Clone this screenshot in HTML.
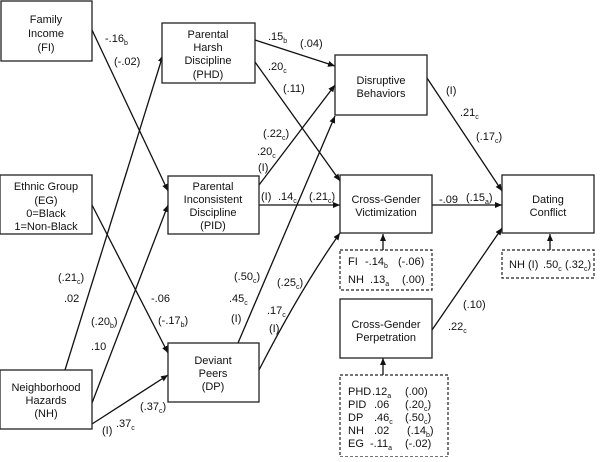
<!DOCTYPE html>
<html><head><style>
body{margin:0;background:#fff}
svg text{font-family:"Liberation Sans",sans-serif;font-size:11px;fill:#111}
.b{fill:#fff;stroke:#222;stroke-width:1.3}
.d{fill:#fff;stroke:#222;stroke-width:1.2;stroke-dasharray:3,2}
.l{stroke:#111;stroke-width:1.3;fill:none}
</style></head><body>
<svg width="600" height="457" viewBox="0 0 600 457" xmlns="http://www.w3.org/2000/svg">
<defs><marker id="a" markerWidth="8" markerHeight="8" refX="7" refY="3" orient="auto" markerUnits="userSpaceOnUse"><path d="M0,0 L7,3 L0,6z" fill="#111"/></marker></defs>
<g class="l" marker-end="url(#a)">
<line x1="92" y1="30" x2="168" y2="191"/>
<line x1="65" y1="370" x2="163" y2="55"/>
<line x1="92" y1="403" x2="168" y2="205"/>
<line x1="92" y1="424" x2="168" y2="375"/>
<line x1="92" y1="205" x2="168" y2="353"/>
<line x1="259" y1="185" x2="335" y2="85"/>
<line x1="259" y1="205" x2="340" y2="205"/>
<line x1="255" y1="40" x2="335" y2="66"/>
<line x1="255" y1="62" x2="340" y2="181"/>
<line x1="238" y1="343" x2="335" y2="116"/>
<path d="M259,370 Q300,290 340,233"/>
<line x1="427" y1="78" x2="502" y2="191"/>
<line x1="432" y1="205" x2="502" y2="205"/>
<line x1="432" y1="330" x2="502" y2="228"/>
<line x1="383" y1="250" x2="383" y2="234"/>
<line x1="550" y1="250" x2="550" y2="234"/>
<line x1="383" y1="375" x2="383" y2="358"/>
</g>
<rect class="b" x="1" y="1" width="91" height="60"/>
<rect class="b" x="162" y="23" width="93" height="60"/>
<rect class="b" x="335" y="55" width="92" height="60"/>
<rect class="b" x="0" y="175" width="92" height="59"/>
<rect class="b" x="168" y="176" width="91" height="58"/>
<rect class="b" x="340" y="175" width="92" height="58"/>
<rect class="b" x="502" y="175" width="92" height="58"/>
<rect class="d" x="340" y="250" width="92" height="40"/>
<rect class="d" x="502" y="250" width="92" height="28"/>
<rect class="b" x="340" y="299" width="92" height="59"/>
<rect class="d" x="340" y="375" width="108" height="82"/>
<rect class="b" x="168" y="343" width="91" height="59"/>
<rect class="b" x="0" y="370" width="92" height="59"/>
<g text-anchor="middle">
<text x="46" y="23">Family</text><text x="46" y="37">Income</text><text x="46" y="51">(FI)</text>
<text x="208" y="38">Parental</text><text x="208" y="51">Harsh</text><text x="208" y="64">Discipline</text><text x="208" y="78">(PHD)</text>
<text x="381" y="84">Disruptive</text><text x="381" y="97">Behaviors</text>
<text x="46" y="190">Ethnic Group</text><text x="46" y="204">(EG)</text><text x="46" y="217">0=Black</text><text x="46" y="230">1=Non-Black</text>
<text x="213" y="190">Parental</text><text x="213" y="203">Inconsistent</text><text x="213" y="216">Discipline</text><text x="213" y="229">(PID)</text>
<text x="386" y="203">Cross-Gender</text><text x="386" y="216">Victimization</text>
<text x="548" y="203">Dating</text><text x="548" y="216">Conflict</text>
<text x="386" y="328">Cross-Gender</text><text x="386" y="341">Perpetration</text>
<text x="213" y="364">Deviant</text><text x="213" y="377">Peers</text><text x="213" y="390">(DP)</text>
<text x="46" y="391">Neighborhood</text><text x="46" y="404">Hazards</text><text x="46" y="417">(NH)</text>
</g>
<text x="105" y="42">-.16<tspan font-size="7" dy="3">b</tspan></text>
<text x="114" y="65">(-.02)</text>
<text x="268" y="40">.15<tspan font-size="7" dy="3">b</tspan></text>
<text x="300" y="47">(.04)</text>
<text x="268" y="70">.20<tspan font-size="7" dy="3">c</tspan></text>
<text x="283" y="92">(.11)</text>
<text x="263" y="137">(.22<tspan font-size="7" dy="3">c</tspan><tspan dy="-3">)</tspan></text>
<text x="257" y="155">.20<tspan font-size="7" dy="3">c</tspan></text>
<text x="258" y="171">(I)</text>
<text x="261" y="200">(I)</text>
<text x="278" y="200">.14<tspan font-size="7" dy="3">c</tspan></text>
<text x="309" y="200">(.21<tspan font-size="7" dy="3">c</tspan><tspan dy="-3">)</tspan></text>
<text x="446" y="94">(I)</text>
<text x="460" y="116">.21<tspan font-size="7" dy="3">c</tspan></text>
<text x="476" y="140">(.17<tspan font-size="7" dy="3">c</tspan><tspan dy="-3">)</tspan></text>
<text x="439" y="203">-.09</text>
<text x="466" y="201">(.15<tspan font-size="7" dy="3">a</tspan><tspan dy="-3">)</tspan></text>
<text x="348" y="265">FI</text><text x="365" y="265">-.14<tspan font-size="7" dy="3">b</tspan></text><text x="398" y="265">(-.06)</text>
<text x="348" y="283">NH</text><text x="370" y="283">.13<tspan font-size="7" dy="3">a</tspan></text><text x="402" y="283">(.00)</text>
<text x="509" y="268">NH</text><text x="528" y="268">(I)</text><text x="543" y="268">.50<tspan font-size="7" dy="3">c</tspan></text><text x="565" y="268">(.32<tspan font-size="7" dy="3">c</tspan><tspan dy="-3">)</tspan></text>
<text x="463" y="308">(.10)</text>
<text x="448" y="330">.22<tspan font-size="7" dy="3">c</tspan></text>
<text x="348" y="395">PHD</text><text x="372" y="395">.12<tspan font-size="7" dy="3">a</tspan></text><text x="405" y="395">(.00)</text>
<text x="348" y="408">PID</text><text x="374" y="408">.06</text><text x="405" y="408">(.20<tspan font-size="7" dy="3">c</tspan><tspan dy="-3">)</tspan></text>
<text x="348" y="421">DP</text><text x="374" y="421">.46<tspan font-size="7" dy="3">c</tspan></text><text x="405" y="421">(.50<tspan font-size="7" dy="3">c</tspan><tspan dy="-3">)</tspan></text>
<text x="348" y="434">NH</text><text x="374" y="434">.02</text><text x="407" y="434">(.14<tspan font-size="7" dy="3">b</tspan><tspan dy="-3">)</tspan></text>
<text x="348" y="447">EG</text><text x="370" y="447">-.11<tspan font-size="7" dy="3">a</tspan></text><text x="405" y="447">(-.02)</text>
<text x="58" y="281">(.21<tspan font-size="7" dy="3">c</tspan><tspan dy="-3">)</tspan></text>
<text x="64" y="302">.02</text>
<text x="91" y="325">(.20<tspan font-size="7" dy="3">b</tspan><tspan dy="-3">)</tspan></text>
<text x="91" y="350">.10</text>
<text x="151" y="302">-.06</text>
<text x="158" y="324">(-.17<tspan font-size="7" dy="3">b</tspan><tspan dy="-3">)</tspan></text>
<text x="140" y="410">(.37<tspan font-size="7" dy="3">c</tspan><tspan dy="-3">)</tspan></text>
<text x="102" y="434">(I)</text>
<text x="116" y="427">.37<tspan font-size="7" dy="3">c</tspan></text>
<text x="234" y="280">(.50<tspan font-size="7" dy="3">c</tspan><tspan dy="-3">)</tspan></text>
<text x="229" y="302">.45<tspan font-size="7" dy="3">c</tspan></text>
<text x="231" y="322">(I)</text>
<text x="277" y="286">(.25<tspan font-size="7" dy="3">c</tspan><tspan dy="-3">)</tspan></text>
<text x="267" y="314">.17<tspan font-size="7" dy="3">c</tspan></text>
<text x="269" y="332">(I)</text>
</svg>
</body></html>
